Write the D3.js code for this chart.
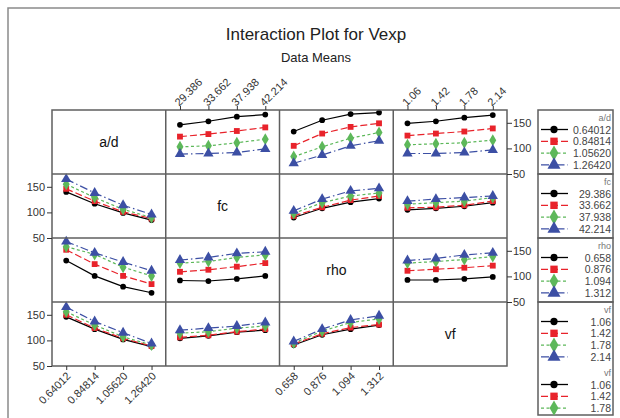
<!DOCTYPE html>
<html>
<head>
<meta charset="utf-8">
<script src="https://cdn.jsdelivr.net/npm/d3@7/dist/d3.min.js"></script>
<style>
  body { margin: 0; background: #fff; }
  svg { display: block; font-family: "Liberation Sans", Arial, sans-serif; }
</style>
</head>
<body>
<svg width="620" height="418"></svg>
<script>
// factoren en hun niveaus
const factors = ['a/d', 'fc', 'rho', 'vf'];
const adLevels = ['0.64012', '0.84814', '1.05620', '1.26420'];
const fcLevels = ['29.386', '33.662', '37.938', '42.214'];
const rhoLevels = ['0.658', '0.876', '1.094', '1.312'];
const vfLevels = ['1.06', '1.42', '1.78', '2.14'];
const yTicks = [50, 100, 150];

// gemiddelden: lijnen = niveaus van de rij-factor, x = niveaus van de kolom-factor
const adByFc = [[146, 153, 162, 166], [123, 128, 134, 141], [103, 105, 111, 118], [89, 90, 92, 99]];
const adByRho = [[133, 155, 167, 170], [105, 129, 142, 149], [84, 103, 120, 131], [71, 87, 105, 115]];
const adByVf = [[149, 153, 160, 165], [125, 129, 133, 139], [107, 109, 111, 116], [90, 90, 92, 97]];
const fcByAd = [[140, 117, 99, 85], [146, 122, 101, 88], [155, 129, 106, 90], [165, 138, 114, 96]];
const fcByRho = [[90, 108, 120, 127], [93, 110, 124, 132], [98, 119, 132, 138], [103, 126, 142, 147]];
const fcByVf = [[105, 108, 112, 119], [109, 110, 114, 122], [116, 119, 122, 129], [122, 126, 129, 132]];
const rhoByAd = [[131, 101, 80, 68], [152, 124, 101, 85], [158, 143, 118, 101], [168, 146, 128, 111]];
const rhoByFc = [[92, 91, 95, 101], [109, 113, 119, 126], [126, 129, 137, 142], [132, 137, 145, 148]];
const rhoByVf = [[93, 93, 95, 99], [111, 114, 117, 121], [126, 129, 133, 139], [131, 135, 142, 146]];
const vfByAd = [[146, 122, 102, 88], [150, 124, 104, 89], [156, 130, 107, 91], [165, 137, 115, 94]];
const vfByFc = [[104, 109, 116, 120], [106, 110, 117, 122], [114, 117, 124, 128], [120, 124, 128, 135]];
const vfByRho = [[91, 111, 122, 130], [93, 113, 125, 131], [95, 118, 135, 142], [98, 122, 140, 148]];

const levelLabels = [adLevels, fcLevels, rhoLevels, vfLevels];
const means = [
  [null, adByFc, adByRho, adByVf],
  [fcByAd, null, fcByRho, fcByVf],
  [rhoByAd, rhoByFc, null, rhoByVf],
  [vfByAd, vfByFc, vfByRho, null]
];

// stijl per niveau (zoals minitab)
const colors = ['#000000', '#e8232b', '#5db85a', '#3c4fa4'];
const dashes = [null, '7,3', '3,2.5', '8,3,1.5,3'];
const symbols = [d3.symbolCircle, d3.symbolSquare, d3.symbolDiamond, d3.symbolTriangle];
const symSize = [26, 34, 42, 46];

const svg = d3.select('svg');

// kader
svg.append('path')
  .attr('d', 'M8,418V8H620')
  .attr('fill', 'none')
  .attr('stroke', '#8a8a8a')
  .attr('stroke-width', 1.5);

svg.append('text')
  .attr('x', 316).attr('y', 40)
  .attr('text-anchor', 'middle')
  .attr('font-size', 17)
  .attr('fill', '#222')
  .text('Interaction Plot for Vexp');

svg.append('text')
  .attr('x', 316).attr('y', 62)
  .attr('text-anchor', 'middle')
  .attr('font-size', 13)
  .attr('fill', '#222')
  .text('Data Means');

const colBand = d3.scaleBand().domain([0, 1, 2, 3]).range([52, 507]);
const rowBand = d3.scaleBand().domain([0, 1, 2, 3]).range([110, 366]);
const x = d3.scalePoint().domain([0, 1, 2, 3]).range([0, colBand.bandwidth()]).padding(0.5);
const y = d3.scaleLinear().domain([50, 175]).range([rowBand.bandwidth(), 0]);

const line = d3.line()
  .x((d, i) => x(i))
  .y(d => y(d));

for (let r = 0; r < 4; r++) {
  for (let c = 0; c < 4; c++) {
    const g = svg.append('g')
      .attr('transform', `translate(${colBand(c)}, ${rowBand(r)})`);

    if (r === c) {
      g.append('text')
        .attr('x', colBand.bandwidth() / 2)
        .attr('y', rowBand.bandwidth() / 2 + 5)
        .attr('text-anchor', 'middle')
        .attr('font-size', 14)
        .attr('fill', '#111')
        .text(factors[r]);
      continue;
    }

    const series = means[r][c];
    series.forEach((vals, k) => {
      g.append('path')
        .attr('d', line(vals))
        .attr('fill', 'none')
        .attr('stroke', colors[k])
        .attr('stroke-width', 1.2)
        .attr('stroke-dasharray', dashes[k]);
    });
    series.forEach((vals, k) => {
      g.selectAll(null)
        .data(vals)
        .enter()
        .append('path')
        .attr('transform', (d, i) => `translate(${x(i)}, ${y(d)})`)
        .attr('d', d3.symbol().type(symbols[k]).size(symSize[k]))
        .attr('fill', colors[k]);
    });
  }
}

// panelranden
const grid = svg.append('g')
  .attr('stroke', '#5f5f5f')
  .attr('stroke-width', 1.5)
  .attr('fill', 'none');
grid.append('rect')
  .attr('x', 52).attr('y', 110)
  .attr('width', 455).attr('height', 256);
[1, 2, 3].forEach(i => {
  grid.append('line')
    .attr('x1', colBand(i)).attr('x2', colBand(i))
    .attr('y1', 110).attr('y2', 366);
  grid.append('line')
    .attr('x1', 52).attr('x2', 507)
    .attr('y1', rowBand(i)).attr('y2', rowBand(i));
});

function styleAxis(g) {
  g.select('.domain').remove();
  g.selectAll('.tick line').attr('stroke', '#333');
  g.selectAll('.tick text').attr('fill', '#333').attr('font-size', 11)
    .attr('font-family', '"Liberation Sans", Arial, sans-serif');
}

// x-assen
[0, 2].forEach(c => {
  const ax = svg.append('g')
    .attr('transform', `translate(${colBand(c)}, 366)`)
    .call(d3.axisBottom(x).tickSize(4).tickFormat(i => levelLabels[c][i]))
    .call(styleAxis);
  ax.selectAll('.tick text')
    .attr('text-anchor', 'end')
    .attr('transform', 'translate(2, 8) rotate(-45)')
    .attr('dy', '0.35em')
    .attr('y', 0).attr('x', 0);
});
[1, 3].forEach(c => {
  const ax = svg.append('g')
    .attr('transform', `translate(${colBand(c)}, 110)`)
    .call(d3.axisTop(x).tickSize(4).tickFormat(i => levelLabels[c][i]))
    .call(styleAxis);
  ax.selectAll('.tick text')
    .attr('text-anchor', 'start')
    .attr('transform', 'translate(-4, -6) rotate(-45)')
    .attr('dy', '0.35em')
    .attr('y', 0).attr('x', 0);
});

// y-assen
[1, 3].forEach(r => {
  svg.append('g')
    .attr('transform', `translate(52, ${rowBand(r)})`)
    .call(d3.axisLeft(y).tickValues(yTicks).tickSize(5).tickPadding(2))
    .call(styleAxis);
});
[0, 2].forEach(r => {
  svg.append('g')
    .attr('transform', `translate(507, ${rowBand(r)})`)
    .call(d3.axisRight(y).tickValues(yTicks).tickSize(5).tickPadding(1))
    .call(styleAxis);
});

// legenda's
const legX = 538;
const legW = 75;
const legBottom = 415;

function drawLegend(g, r, offset, maxY) {
  g.append('text')
    .attr('x', legW - 2)
    .attr('y', offset + 11)
    .attr('text-anchor', 'end')
    .attr('font-size', 9)
    .attr('fill', '#777')
    .text(factors[r]);
  levelLabels[r].forEach((lab, k) => {
    const yy = offset + 19.5 + k * 11.8;
    if (yy + 4 > maxY) return; // valt buiten het kader
    g.append('line')
      .attr('x1', 3).attr('x2', 30)
      .attr('y1', yy).attr('y2', yy)
      .attr('stroke', colors[k])
      .attr('stroke-width', 1.3)
      .attr('stroke-dasharray', dashes[k]);
    g.append('path')
      .attr('transform', `translate(16, ${yy})`)
      .attr('d', d3.symbol().type(symbols[k]).size(symSize[k] * 1.6))
      .attr('fill', colors[k]);
    g.append('text')
      .attr('x', legW - 2)
      .attr('y', yy + 4)
      .attr('text-anchor', 'end')
      .attr('font-size', 10.5)
      .attr('fill', '#444')
      .text(lab);
  });
}

for (let r = 0; r < 4; r++) {
  const h = r === 3 ? legBottom - rowBand(r) : rowBand.bandwidth();
  const g = svg.append('g')
    .attr('transform', `translate(${legX}, ${rowBand(r)})`);
  g.append('rect')
    .attr('width', legW)
    .attr('height', h)
    .attr('fill', 'none')
    .attr('stroke', '#5f5f5f')
    .attr('stroke-width', 1.5);
  drawLegend(g, r, 0, h);
  if (r === 3) drawLegend(g, r, 63, h);
}
</script>
</body>
</html>
